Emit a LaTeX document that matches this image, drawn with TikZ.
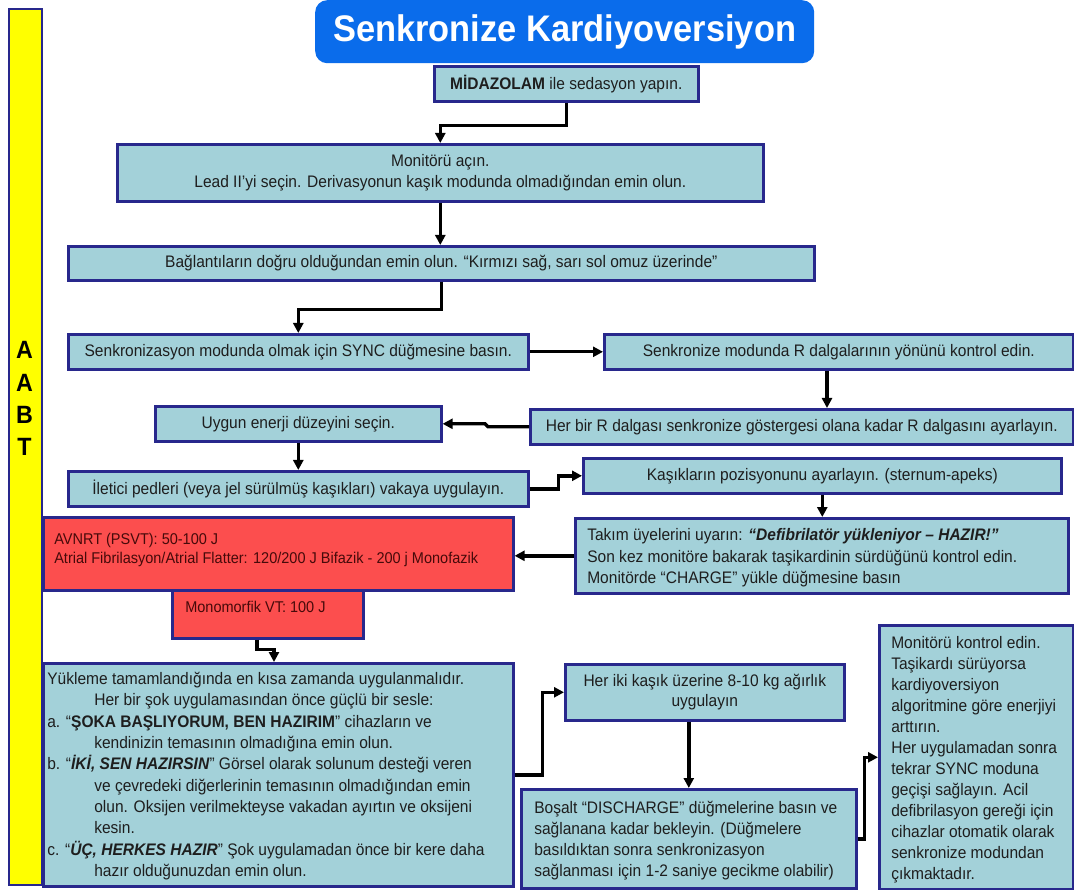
\documentclass[tikz,border=0pt]{standalone}
\usepackage{fontspec}
\usepackage{graphicx}
\setmainfont{Liberation Sans}[FakeStretch=0.93]
\usetikzlibrary{arrows.meta}
\definecolor{boxfill}{RGB}{163,209,217}
\definecolor{navy}{RGB}{40,40,140}
\definecolor{titleblue}{RGB}{10,108,235}
\definecolor{redfill}{RGB}{252,78,78}
\definecolor{txt}{RGB}{30,30,30}
\definecolor{redtxt}{RGB}{70,10,10}
\definecolor{baryellow}{RGB}{255,255,0}

% centred box given by its corners (x1,y1) (x2,y2)
\newcommand{\cbox}[7]{%
  \pgfmathsetmacro\mybw{#5-#3}\pgfmathsetmacro\mybh{#6-#4}%
  \node[#2, anchor=north west, inner sep=0pt, minimum width=\mybw pt,
        minimum height=\mybh pt, align=center] (#1) at (#3,#4) {#7};}
% box with top-left text: name, style, x1, y1, x2, y2, left pad, top pad, text
\newcommand{\tbox}[9]{%
  \pgfmathsetmacro\mybw{#5-#3}\pgfmathsetmacro\mybh{#6-#4}\pgfmathsetmacro\mytw{#5-#3-#7}%
  \node[#2, anchor=north west, inner sep=0pt, minimum width=\mybw pt,
        minimum height=\mybh pt] (#1) at (#3,#4)
   {\vbox to \mybh pt{\vskip #8pt\hbox{\hskip #7pt\parbox[t]{\mytw pt}{\raggedright #9}}\vss}};}

\begin{document}
\begin{tikzpicture}[x=1pt,y=-1pt,
  box/.style={draw=navy, line width=2.6pt, fill=boxfill, text=txt,
              font={\fontsize{16.7}{21}\selectfont}},
  redbox/.style={box, fill=redfill, text=redtxt, font={\fontsize{15.6}{19}\selectfont}},
  titlebox/.style={fill=titleblue, rounded corners=12pt, text=white,
              font={\fontsize{37}{42}\selectfont\bfseries}},
  barbox/.style={draw=navy, line width=2.4pt, fill=baryellow},
  arr/.style={draw=black, line width=3.4pt, -{Triangle[length=10pt,width=10pt]}}]
\fill[white] (0,0) rectangle (1074,890);
\useasboundingbox (0,0) rectangle (1074,890);

% left bar
\cbox{bar}{barbox}{8}{8}{41}{884}{}
\node[inner sep=0pt, align=center, font={\fontsize{25}{32.3}\selectfont\bfseries}] (abt) at (24.5,398.7) {A\\A\\B\\T};

% title
\cbox{title}{titlebox}{315}{0}{814}{63}{Senkronize Kardiyoversiyon}

% boxes
\cbox{mid}{box}{433}{65}{697}{100}{\textbf{MİDAZOLAM} ile sedasyon yapın.}
\cbox{mon}{box}{116}{143}{762}{200}{Monitörü açın.\\ Lead II'yi  seçin. Derivasyonun kaşık modunda olmadığından emin  olun.}
\cbox{bag}{box}{67}{245}{813}{279}{Bağlantıların doğru olduğundan emin olun. “Kırmızı  sağ, sarı sol omuz üzerinde”}
\cbox{senk}{box}{67}{333}{527}{368}{Senkronizasyon modunda olmak için SYNC düğmesine basın.}
\cbox{senkr}{box}{603}{333}{1072}{368}{Senkronize modunda R dalgalarının  yönünü kontrol edin.}
\cbox{herbir}{box}{529}{408}{1072}{443}{Her bir R dalgası senkronize  göstergesi olana kadar R dalgasını ayarlayın.}
\cbox{uygun}{box}{154}{405}{440}{440}{Uygun enerji düzeyini seçin.}
\cbox{ilet}{box}{67}{470}{527}{505}{İletici pedleri (veya jel sürülmüş kaşıkları)  vakaya uygulayın.}
\cbox{kas}{box}{582}{457}{1060}{492}{Kaşıkların pozisyonunu ayarlayın.  (sternum-apeks)}
\tbox{takim}{box}{574}{517}{1067}{592}{12}{10.3}{\fontsize{16.7}{21.3}\selectfont Takım üyelerini uyarın:  \textbf{\textit{“Defibrilatör yükleniyor – HAZIR!”}}\\
Son kez monitöre bakarak taşikardinin sürdüğünü kontrol edin.\\
Monitörde “CHARGE” yükle düğmesine basın}
\tbox{red1}{redbox}{42}{516}{512}{589}{11}{15.9}{\fontsize{15.6}{19}\selectfont AVNRT (PSVT):  50-100 J\\
Atrial Fibrilasyon/Atrial Flatter:  120/200 J Bifazik - 200 j Monofazik}
\tbox{red2}{redbox}{171}{589}{362}{637}{13}{10.6}{\fontsize{15.6}{19}\selectfont Monomorfik VT: 100 J}
\tbox{ykl}{box}{42}{662}{512}{885}{4}{9}{\fontsize{16.7}{21.3}\selectfont Yükleme tamamlandığında en kısa zamanda uygulanmalıdır.\\
\hspace*{47pt}Her bir şok uygulamasından önce güçlü bir sesle:\\
a. “\textbf{ŞOKA BAŞLIYORUM, BEN HAZIRIM}” cihazların ve\\
\hspace*{47pt}kendinizin temasının olmadığına emin olun.\\
b. “\textbf{\textit{İKİ, SEN HAZIRSIN}}”  Görsel olarak solunum desteği veren\\
\hspace*{47pt}ve çevredeki diğerlerinin temasının  olmadığından emin\\
\hspace*{47pt}olun. Oksijen verilmekteyse vakadan ayırtın ve oksijeni\\
\hspace*{47pt}kesin.\\
c. “\textbf{\textit{ÜÇ, HERKES HAZIR}}”  Şok uygulamadan önce bir kere daha\\
\hspace*{47pt}hazır olduğunuzdan emin olun.}
\cbox{heriki}{box, font={\fontsize{16.7}{20}\selectfont}}{564}{663}{843}{719}{Her iki kaşık üzerine  8-10  kg ağırlık\\ uygulayın}
\tbox{bosalt}{box}{520}{788}{855}{887}{13}{12}{\fontsize{16.7}{21.1}\selectfont Boşalt “DISCHARGE” düğmelerine basın ve\\
sağlanana kadar bekleyin. (Düğmelere\\
basıldıktan sonra senkronizasyon\\
sağlanması için 1-2  saniye gecikme olabilir)}
\tbox{mk}{box}{878}{624}{1072}{888}{12}{11}{\fontsize{16.7}{21}\selectfont Monitörü kontrol edin.\\
Taşikardı sürüyorsa\\
kardiyoversiyon\\
algoritmine göre enerjiyi\\
arttırın.\\
Her uygulamadan sonra\\
tekrar SYNC moduna\\
geçişi sağlayın.  Acil\\
defibrilasyon gereği için\\
cihazlar otomatik olarak\\
senkronize modundan\\
çıkmaktadır.}

% connectors
\coordinate (x827) at (827,0);
\coordinate (x257) at (257,0);
\coordinate (x274) at (274,0);
\draw[arr] (mid.south) -- ++(0,23) -| (mon.north);
\draw[arr] (mon.south) -- (mon.south |- bag.north);
\draw[arr] (bag.south) -- ++(0,28) -| (senk.north);
\draw[arr] (senk.east) -- (senkr.west);
\draw[arr] (senkr.south -| x827) -- (herbir.north -| x827);
\draw[arr] (herbir.west) -- ++(-41,0) -- ++(-3,-3) -- (uygun.east);
\draw[arr] (uygun.south) -- (uygun.south |- ilet.north);
\draw[arr] (ilet.east) -- ++(29,0) |- (kas.west);
\draw[arr] (kas.south) -- (kas.south |- takim.north);
\draw[arr] (takim.west) -- (takim.west -| red1.east);
\draw[arr] (red2.south -| x257) -- ++(0,10) -| (ykl.north -| x274);
\draw[arr] (ykl.east) -- ++(28,0) |- (heriki.west);
\draw[arr] (heriki.south -| bosalt.north) -- (bosalt.north);
\draw[arr] (bosalt.east) -- ++(7,0) |- (mk.west);
\end{tikzpicture}
\end{document}
